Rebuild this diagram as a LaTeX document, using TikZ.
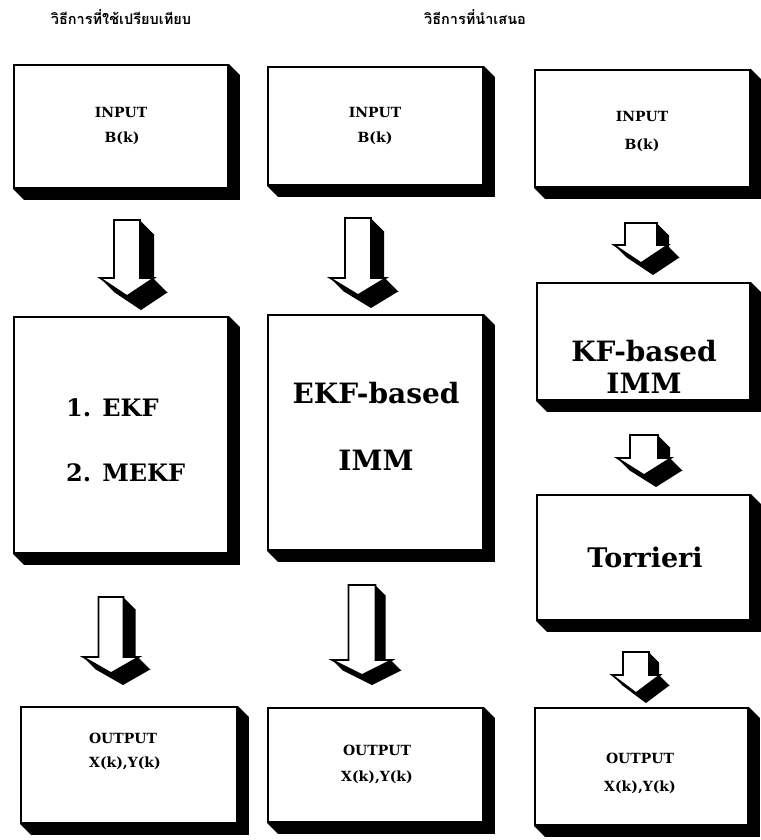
\documentclass[tikz,border=0pt]{standalone}
\usepackage{fontspec}
\newfontfamily\thaifont[Script=Thai]{Loma}
\newfontfamily\boxfont{DejaVu Serif}
\usetikzlibrary{calc}
\tikzset{
  box/.style={draw=black, line width=1.8pt, fill=white, inner sep=0pt},
  small/.style={font=\boxfont\bfseries\fontsize{14}{16}\selectfont, inner sep=0pt},
  big/.style={font=\boxfont\bfseries\fontsize{28}{32}\selectfont, inner sep=0pt},
  bigA/.style={font=\boxfont\bfseries\fontsize{24}{28}\selectfont, inner sep=0pt, anchor=west},
  head/.style={font=\thaifont\bfseries\fontsize{14.5}{18}\selectfont, inner sep=0pt},
}
% shadow (extrusion) of a box node
\newcommand\boxshade[2]{%
  \fill[black] (#1.north east) -- ++(#2,#2) -- ($(#1.south east)+(#2,#2)$)
     -- ($(#1.south west)+(#2,#2)$) -- (#1.south west) -- (#1.south east) -- cycle;}
% 3D block arrow: cx, top, half shaft width, head base, half head width, tip, depth
\newcommand\blockarr[7]{%
  \foreach \k in {1,...,#7}{%
    \fill[black, shift={(\k,\k)}] ({#1-#3},#2) -- ({#1+#3},#2) -- ({#1+#3},#4) -- ({#1+#5},#4)
      -- (#1,#6) -- ({#1-#5},#4) -- ({#1-#3},#4) -- cycle;}
  \draw[line width=1.6pt, fill=white, line join=miter] ({#1-#3},#2) -- ({#1+#3},#2) -- ({#1+#3},#4)
      -- ({#1+#5},#4) -- (#1,#6) -- ({#1-#5},#4) -- ({#1-#3},#4) -- cycle;}
\begin{document}
\begin{tikzpicture}[x=1pt, y=-1pt]
\useasboundingbox (0,0) rectangle (760,840);
% headers
\node[head] (h1) at (121,17) {วิธีการที่ใช้เปรียบเทียบ};
\node[head] (h2) at (475,17) {วิธีการที่นำเสนอ};

% ---- boxes ----
\node[box, minimum width=214pt, minimum height=123pt] (in1) at (121,126.5) {};
\node[box, minimum width=215pt, minimum height=118pt] (in2) at (375.5,126) {};
\node[box, minimum width=215pt, minimum height=117pt] (in3) at (642.5,128.5) {};
\node[box, minimum width=214pt, minimum height=236pt] (mid1) at (121,435) {};
\node[box, minimum width=215pt, minimum height=235pt] (mid2) at (375.5,432.5) {};
\node[box, minimum width=213pt, minimum height=117pt] (kf3) at (643.5,341.5) {};
\node[box, minimum width=213pt, minimum height=125pt] (tor3) at (643.5,557.5) {};
\node[box, minimum width=216pt, minimum height=116pt] (out1) at (129,765) {};
\node[box, minimum width=215pt, minimum height=114pt] (out2) at (375.5,765) {};
\node[box, minimum width=213pt, minimum height=117pt] (out3) at (641.5,766.5) {};
\foreach \n in {in1,in2,in3,mid1,mid2,kf3,tor3,out1,out2,out3}{\boxshade{\n}{11}}

% ---- texts ----
\node[small] (t-in1a) at (121,112) {INPUT};
\node[small] (t-in1b) at (122,138) {B(k)};
\node[small] (t-in2a) at (375,112) {INPUT};
\node[small] (t-in2b) at (375,138) {B(k)};
\node[small] (t-in3a) at (642,116) {INPUT};
\node[small] (t-in3b) at (642,145) {B(k)};

\node[bigA] (t-m1a) at (66,408) {1. EKF};
\node[bigA] (t-m1b) at (66,473) {2. MEKF};
\node[big] (t-m2a) at (376,393) {EKF-based};
\node[big] (t-m2b) at (376,460) {IMM};
\node[big] (t-k3a) at (644,351) {KF-based};
\node[big] (t-k3b) at (644,383) {IMM};
\node[big, font=\boxfont\bfseries\fontsize{27}{32}\selectfont] (t-t3) at (645,557) {Torrieri};

\node[small] (t-o1a) at (123,738) {OUTPUT};
\node[small] (t-o1b) at (125,763) {X(k),Y(k)};
\node[small] (t-o2a) at (377,750) {OUTPUT};
\node[small] (t-o2b) at (377,777) {X(k),Y(k)};
\node[small] (t-o3a) at (640,758) {OUTPUT};
\node[small] (t-o3b) at (640,787) {X(k),Y(k)};

% ---- block arrows ----
\blockarr{127}{220}{13}{278}{27}{296}{14}
\blockarr{111}{597}{12.5}{657}{28}{673}{12}
\blockarr{358}{218}{13}{278}{28}{295}{13}
\blockarr{362}{585}{13.5}{660}{30}{675}{10}
\blockarr{641}{223}{16}{245}{27}{263}{12}
\blockarr{644}{435}{14}{458}{27}{475}{12}
\blockarr{636}{652}{13}{675}{24}{693}{10}
\end{tikzpicture}
\end{document}
